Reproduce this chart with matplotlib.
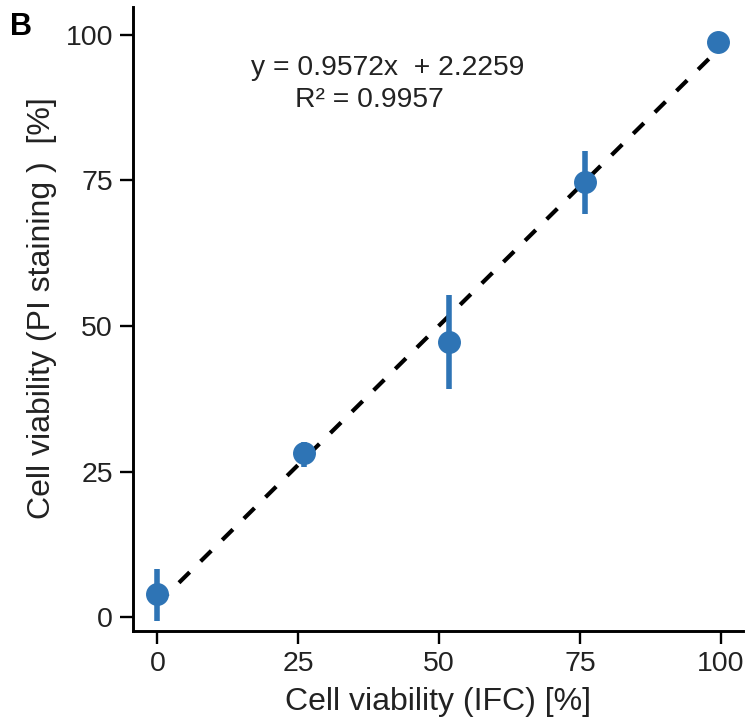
import numpy as np
import matplotlib.pyplot as plt

plt.rcParams['font.family'] = ['Liberation Sans', 'DejaVu Sans']

# IFC viability vs PI staining viability (mean, error bar low/high)
ifc = [0.0, 26.1, 51.8, 75.9, 99.5]
pi_mean = [3.95, 28.2, 47.3, 74.7, 98.8]
pi_low = [-0.7, 25.8, 39.2, 69.2, 98.0]
pi_high = [8.25, 30.1, 55.3, 80.1, 99.6]

slope, intercept = 0.9572, 2.2259
r2 = 0.9957

blue = '#2e74b5'
txt = '#222222'

fig = plt.figure(figsize=(7.52, 7.28), dpi=100)
ax = fig.add_axes([0.177, 0.1332, 0.811, 0.8572])

x = np.array(ifc)
y = np.array(pi_mean)
yerr = [y - np.array(pi_low), np.array(pi_high) - y]

# regression line
xs = np.array([0, max(ifc)])
ax.plot(xs, slope * xs + intercept, color='black', lw=3.0,
        linestyle=(0, (3.6, 3.7)), zorder=2)

ax.errorbar(x, y, yerr=yerr, fmt='o', color=blue, ms=15.5, elinewidth=4,
            capsize=0, zorder=3)

ax.set_xlim(-4.3, 103.9)
ax.set_ylim(-2.4, 104.8)
ax.set_xticks([0, 25, 50, 75, 100])
ax.set_yticks([0, 25, 50, 75, 100])

for s in ['top', 'right']:
    ax.spines[s].set_visible(False)
for s in ['left', 'bottom']:
    ax.spines[s].set_linewidth(2.1)
ax.tick_params(width=1.7, length=9.4, labelsize=20.5, labelcolor=txt, pad=5)

ax.set_xlabel('Cell viability (IFC) [%]', fontsize=23, color=txt, labelpad=7)
ax.set_ylabel('Cell viability (PI staining )  [%]', fontsize=23, color=txt,
              labelpad=6)
ax.yaxis.label.set_y(0.518)

fig.text(388 / 752, 1 - 68 / 728, f'y = {slope}x  + {intercept}', fontsize=20.3,
         color=txt, ha='center', va='center')
fig.text(369 / 752, 1 - 100 / 728, f'R² = {r2}', fontsize=20.3,
         color=txt, ha='center', va='center')
fig.text(10 / 752, 1 - 27 / 728, 'B', fontsize=22, fontweight='bold',
         color='black', ha='left', va='center')

fig.savefig('out.png', dpi=100)
